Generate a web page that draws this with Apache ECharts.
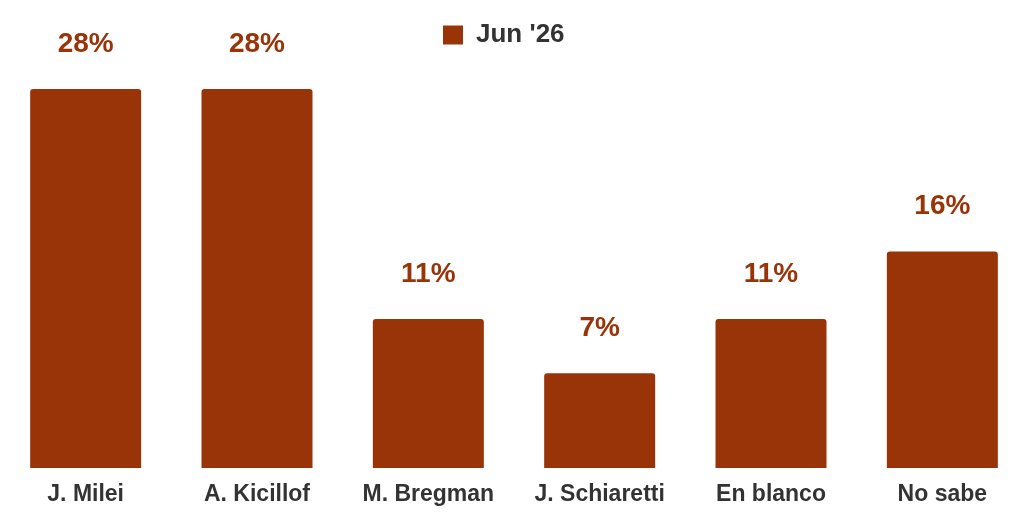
<!DOCTYPE html>
<html>
<head>
<meta charset="utf-8">
<script src="https://cdn.jsdelivr.net/npm/echarts@6/dist/echarts.min.js"></script>
<style>
  html, body { margin: 0; padding: 0; background: #fff; }
  #chart { width: 1024px; height: 518px; }
</style>
</head>
<body>
<div id="chart"></div>
<script>
// datos
const categorias = ['J. Milei', 'A. Kicillof', 'M. Bregman', 'J. Schiaretti', 'En blanco', 'No sabe'];
const valores = [28, 28, 11, 7, 11, 16];
const serieNombre = "Jun '26";

const color = '#993409';
const fuente = '"Liberation Sans", Arial, sans-serif';

var chart = echarts.init(document.getElementById('chart'), null, { renderer: 'canvas' });

var option = {
    animation: false,
    textStyle: { fontFamily: fuente },
    legend: {
        top: 17,
        left: 438,
        itemWidth: 20,
        itemHeight: 19,
        itemGap: 10,
        icon: 'rect',
        textStyle: { fontSize: 26, fontWeight: 'bold', color: '#333', fontFamily: fuente, padding: [0, 0, 0, 8] },
        data: [serieNombre]
    },
    grid: {
        left: 0,
        width: 1028,
        top: 89,
        bottom: 50,
        containLabel: false,
        outerBoundsMode: 'none'
    },
    xAxis: {
        type: 'category',
        data: categorias,
        axisLine: { show: false },
        axisTick: { show: false },
        axisLabel: {
            interval: 0,
            margin: 15,
            fontSize: 23,
            fontWeight: 'bold',
            color: '#333',
            fontFamily: fuente
        }
    },
    yAxis: {
        type: 'value',
        min: 0,
        max: 28,
        show: false,
        splitLine: { show: false }
    },
    series: [{
        name: serieNombre,
        type: 'bar',
        data: valores,
        barWidth: 111,
        itemStyle: { color: color, borderRadius: [3, 3, 0, 0] },
        label: {
            show: true,
            position: 'top',
            distance: 31,
            formatter: '{c}%',
            fontSize: 28,
            fontWeight: 'bold',
            color: color,
            fontFamily: fuente
        }
    }]
};

chart.setOption(option);
</script>
</body>
</html>
